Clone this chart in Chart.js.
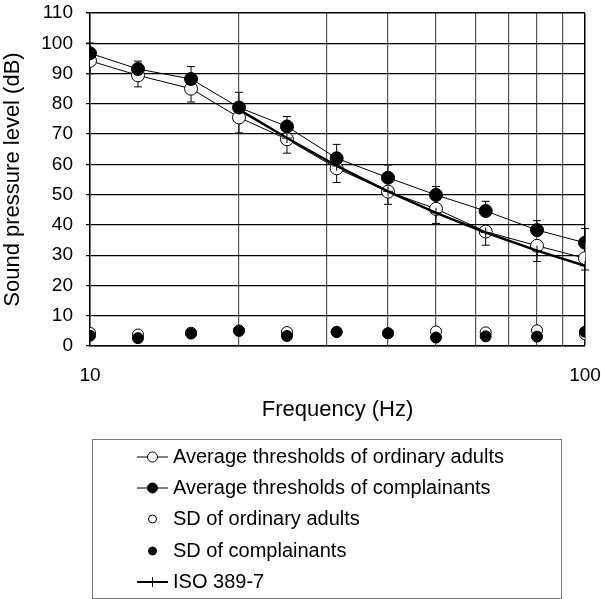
<!DOCTYPE html>
<html>
<head>
<meta charset="utf-8">
<script src="https://cdn.jsdelivr.net/npm/chart.js@4.4.1/dist/chart.umd.min.js"></script>
<style>
  body { margin: 0; background: #fff; }
  canvas { display: block; }
</style>
</head>
<body>
<canvas id="chart" width="601" height="599"></canvas>
<script>
// frecuencias de tercio de octava (Hz)
const frecuencias = [10, 12.5, 16, 20, 25, 31.5, 40, 50, 63, 80, 100];
const promedioAdultos = [94.2, 89.4, 85.0, 75.5, 68.3, 58.7, 51.0, 45.3, 37.8, 33.1, 29.0];
const promedioQuejosos = [96.7, 91.5, 88.2, 78.8, 72.5, 62.0, 55.6, 49.9, 44.6, 38.3, 34.1];
const sdAdultos = [4.3, 3.8, 4.4, 5.1, 4.6, 4.7, 4.2, 4.8, 4.5, 5.2, 3.9];
const sdQuejosos = [3.4, 2.6, 4.1, 5.0, 3.3, 4.6, 4.2, 2.8, 3.2, 3.1, 4.7];
const frecuenciasIso = [20, 25, 31.5, 40, 50, 63, 80, 100];
const valoresIso = [78.1, 68.7, 59.5, 51.1, 44.0, 37.5, 31.5, 26.5];
const gridX = [10, 20, 30, 40, 50, 60, 70, 80, 90, 100];
const ticksX = [10, 100];
const ticksY = [0, 10, 20, 30, 40, 50, 60, 70, 80, 90, 100, 110];

const etiquetas = [
    "Average thresholds of ordinary adults",
    "Average thresholds of complainants",
    "SD of ordinary adults",
    "SD of complainants",
    "ISO 389-7"
];

const fuente = "'Liberation Sans', Arial, sans-serif";

const puntos = (xs, ys) => xs.map((x, i) => ({ x: x, y: ys[i] }));

// barras de error: quejosos hacia arriba, adultos hacia abajo
const barrasError = {
    id: "barrasError",
    beforeDatasetsDraw(chart) {
        const ctx = chart.ctx;
        const xs = chart.scales.x;
        const ys = chart.scales.y;
        ctx.save();
        ctx.strokeStyle = "#000";
        ctx.lineWidth = 1;
        frecuencias.forEach((f, i) => {
            const px = xs.getPixelForValue(f);
            const pares = [
                [promedioQuejosos[i], promedioQuejosos[i] + sdQuejosos[i]],
                [promedioAdultos[i], promedioAdultos[i] - sdAdultos[i]]
            ];
            pares.forEach(([desde, hasta]) => {
                const y1 = ys.getPixelForValue(desde);
                const y2 = ys.getPixelForValue(hasta);
                ctx.beginPath();
                ctx.moveTo(px, y1);
                ctx.lineTo(px, y2);
                ctx.moveTo(px - 4, y2);
                ctx.lineTo(px + 4, y2);
                ctx.stroke();
            });
        });
        ctx.restore();
    }
};

// leyenda con recuadro debajo del grafico
const leyenda = {
    id: "leyenda",
    afterDraw(chart) {
        const ctx = chart.ctx;
        ctx.save();
        ctx.strokeStyle = "#777";
        ctx.lineWidth = 1;
        ctx.strokeRect(92.5, 439.5, 469, 159);

        const filas = [457, 488, 519, 551, 582];
        filas.forEach((y, i) => {
            ctx.strokeStyle = "#000";
            ctx.fillStyle = "#000";
            if (i === 0 || i === 1 || i === 4) {
                ctx.lineWidth = i === 4 ? 2 : 1;
                ctx.beginPath();
                ctx.moveTo(137, y);
                ctx.lineTo(168, y);
                ctx.stroke();
            }
            ctx.lineWidth = 1;
            if (i < 4) {
                const r = i < 2 ? 5 : 4;
                ctx.beginPath();
                ctx.arc(152.5, y, r, 0, Math.PI * 2);
                ctx.fillStyle = (i === 0 || i === 2) ? "#fff" : "#000";
                ctx.fill();
                ctx.stroke();
            } else {
                ctx.beginPath();
                ctx.moveTo(152.5, y - 5);
                ctx.lineTo(152.5, y + 5);
                ctx.stroke();
            }
            ctx.fillStyle = "#000";
            ctx.font = "20px " + fuente;
            ctx.textBaseline = "middle";
            ctx.textAlign = "left";
            ctx.fillText(etiquetas[i], 173, y);
        });
        ctx.restore();
    }
};

const canvas = document.getElementById("chart").getContext("2d");

const data = {
    datasets: [
        {
            label: etiquetas[4],
            data: puntos(frecuenciasIso, valoresIso),
            borderColor: "#000",
            borderWidth: 2.5,
            pointStyle: "cross",
            pointRadius: 5,
            pointBorderWidth: 1,
            pointBorderColor: "#000",
            order: 0
        },
        {
            label: etiquetas[1],
            data: puntos(frecuencias, promedioQuejosos),
            borderColor: "#000",
            borderWidth: 1,
            pointRadius: 6.5,
            pointBackgroundColor: "#000",
            pointBorderColor: "#000",
            order: 1
        },
        {
            label: etiquetas[0],
            data: puntos(frecuencias, promedioAdultos),
            borderColor: "#000",
            borderWidth: 1,
            pointRadius: 6.5,
            pointBackgroundColor: "#fff",
            pointBorderColor: "#000",
            order: 2
        },
        {
            label: etiquetas[3],
            data: puntos(frecuencias, sdQuejosos),
            showLine: false,
            pointRadius: 5.5,
            pointBackgroundColor: "#000",
            pointBorderColor: "#000",
            order: 3
        },
        {
            label: etiquetas[2],
            data: puntos(frecuencias, sdAdultos),
            showLine: false,
            pointRadius: 5.5,
            pointBackgroundColor: "#fff",
            pointBorderColor: "#000",
            order: 4
        }
    ]
};

const sinRelleno = (s) => {
    s.paddingLeft = 0;
    s.paddingRight = 0;
    s.paddingTop = 0;
    s.paddingBottom = 0;
};

const config = {
    type: "line",
    data: data,
    options: {
        responsive: false,
        animation: false,
        devicePixelRatio: 1,
        layout: {
            padding: { top: 13, right: 16, bottom: 176, left: 0 }
        },
        plugins: {
            legend: { display: false },
            tooltip: { enabled: false }
        },
        scales: {
            x: {
                type: "logarithmic",
                min: 10,
                max: 100,
                afterBuildTicks: (s) => { s.ticks = gridX.map(v => ({ value: v })); },
                afterFit: (s) => { s.height = 77; sinRelleno(s); },
                border: { color: "#000", width: 1.5 },
                grid: {
                    drawTicks: false,
                    color: (c) => (c.tick && c.tick.value === 100) ? "#000" : "#555",
                    lineWidth: (c) => (c.tick && c.tick.value === 100) ? 1.5 : 1.2
                },
                ticks: {
                    autoSkip: false,
                    maxRotation: 0,
                    padding: 18,
                    color: "#000",
                    font: { family: fuente, size: 19 },
                    callback: (v) => ticksX.includes(v) ? String(v) : ""
                },
                title: {
                    display: true,
                    text: "Frequency (Hz)",
                    color: "#000",
                    padding: 0,
                    font: { family: fuente, size: 22 }
                }
            },
            y: {
                min: 0,
                max: 110,
                afterBuildTicks: (s) => { s.ticks = ticksY.map(v => ({ value: v })); },
                afterFit: (s) => { s.width = 90; sinRelleno(s); },
                border: { color: "#000", width: 1.5 },
                grid: {
                    color: "#000",
                    lineWidth: (c) => (c.tick && c.tick.value === 110) ? 1.5 : 1.2,
                    tickLength: 4
                },
                ticks: {
                    padding: 13,
                    color: "#000",
                    font: { family: fuente, size: 19 }
                },
                title: {
                    display: true,
                    text: "Sound pressure level (dB)",
                    color: "#000",
                    padding: 0,
                    font: { family: fuente, size: 22 }
                }
            }
        }
    },
    plugins: [barrasError, leyenda]
};

const chart = new Chart(canvas, config);
</script>
</body>
</html>
